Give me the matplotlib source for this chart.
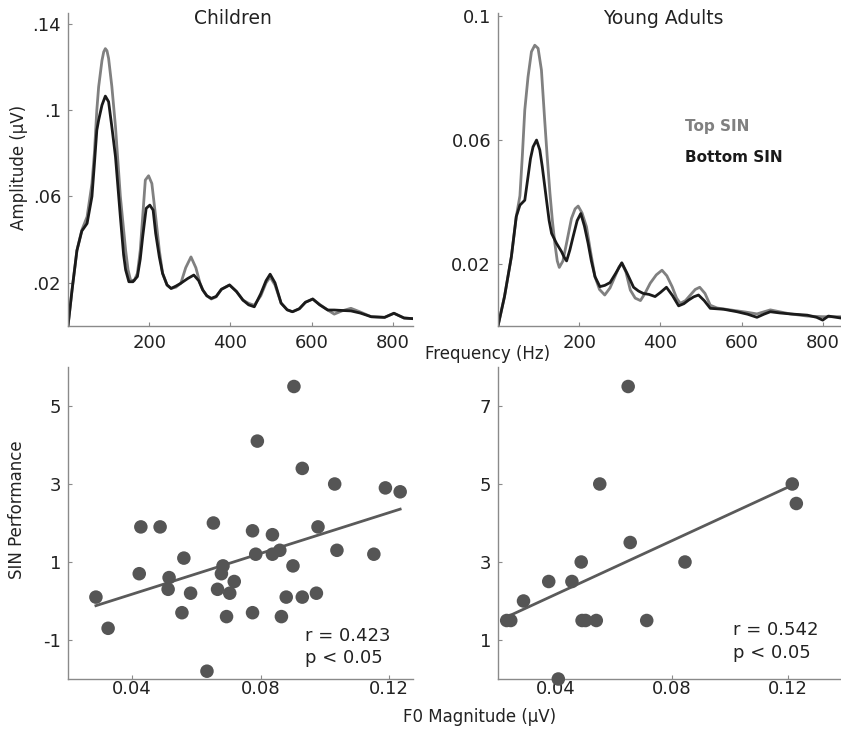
import numpy as np
import matplotlib
matplotlib.use('Agg')
import matplotlib.pyplot as plt

plt.rcParams['font.family'] = ['DejaVu Sans']
plt.rcParams['axes.unicode_minus'] = False

# spectra, children (Hz, amplitude in uV)
ch_top_hz = [0, 10, 22, 34, 47, 59, 65, 71, 75.5, 83.7, 88, 92, 96, 100, 108, 117, 129, 142, 148, 154, 163,
             171, 178, 184, 190.5, 198.5, 206.6, 216, 225, 233, 244, 254, 266, 278, 290, 303, 315, 325, 332,
             342, 353, 365, 378, 398, 415, 431, 445, 459, 475, 488, 498, 510, 525, 540, 553, 570, 585, 603,
             620, 640, 656, 675, 697, 720, 747, 780, 803, 828, 850]
ch_top_amp = [0, 0.0167, 0.035, 0.0444, 0.0506, 0.066, 0.08, 0.1, 0.1108, 0.123, 0.127, 0.1285, 0.1275, 0.124,
              0.111, 0.0923, 0.06, 0.035, 0.026, 0.0213, 0.021, 0.0244, 0.035, 0.0506, 0.0676, 0.0696, 0.066,
              0.0506, 0.035, 0.0244, 0.019, 0.0174, 0.018, 0.0198, 0.027, 0.032, 0.027, 0.02, 0.0167, 0.014,
              0.0125, 0.0135, 0.017, 0.019, 0.016, 0.012, 0.0105, 0.0096, 0.014, 0.02, 0.0227, 0.019, 0.0106,
              0.0075, 0.0066, 0.008, 0.011, 0.0125, 0.01, 0.0074, 0.0055, 0.007, 0.0082, 0.0065, 0.0043, 0.004,
              0.0059, 0.0037, 0.0034]
ch_bot_hz = [0, 10, 22, 34, 47, 59, 65, 71, 75.5, 83.7, 92, 100, 108, 117, 129, 137, 142, 150, 160, 171, 178,
             184, 192.6, 201.6, 209.7, 216, 225, 233, 244, 254, 266, 278, 295, 310, 322, 332, 342, 353, 365,
             378, 398, 415, 431, 445, 459, 475, 488, 498, 510, 525, 540, 553, 570, 585, 603, 620, 640, 656,
             675, 697, 720, 747, 780, 803, 828, 850]
ch_bot_amp = [0, 0.0167, 0.035, 0.044, 0.0475, 0.06, 0.075, 0.0907, 0.0954, 0.1023, 0.1065, 0.1039, 0.0923,
              0.0784, 0.0506, 0.033, 0.026, 0.0205, 0.0205, 0.0229, 0.031, 0.0413, 0.0545, 0.056, 0.0537,
              0.0429, 0.032, 0.0244, 0.019, 0.0174, 0.0185, 0.0198, 0.022, 0.0236, 0.021, 0.0167, 0.014,
              0.0128, 0.0137, 0.017, 0.019, 0.016, 0.012, 0.0098, 0.0089, 0.015, 0.021, 0.024, 0.02, 0.0106,
              0.0075, 0.0066, 0.008, 0.011, 0.0125, 0.0098, 0.0074, 0.0074, 0.0072, 0.007, 0.006, 0.0043,
              0.004, 0.0059, 0.0037, 0.0034]

# spectra, young adults
ya_top_hz = [0, 16, 33, 45, 54, 60, 66, 74, 82.4, 90.6, 98.8, 107, 115, 121, 128, 134, 140, 146, 151, 160,
             169, 181, 190, 197.5, 207, 218, 228, 239, 250, 263, 276, 288, 298, 305, 315, 326, 338, 351, 362,
             375, 390, 404, 416, 429, 440, 449, 462, 474, 486, 497, 510, 523, 540, 572, 610, 638, 671, 720,
             762, 800, 848]
ya_top_amp = [0, 0.0095, 0.0224, 0.0353, 0.042, 0.055, 0.0697, 0.0804, 0.0885, 0.0906, 0.0896, 0.0826,
              0.0665, 0.055, 0.0428, 0.034, 0.0267, 0.021, 0.0189, 0.021, 0.0268, 0.0347, 0.0378, 0.0387,
              0.0365, 0.032, 0.024, 0.0159, 0.0118, 0.01, 0.0123, 0.0159, 0.019, 0.0202, 0.0175, 0.0116,
              0.009, 0.0082, 0.0105, 0.0138, 0.0165, 0.018, 0.0162, 0.0127, 0.009, 0.0073, 0.0082, 0.01,
              0.0118, 0.0125, 0.0105, 0.0067, 0.0058, 0.0052, 0.0045, 0.0039, 0.0052, 0.0039, 0.0032, 0.003,
              0.003]
ya_bot_hz = [0, 16, 33, 45, 54, 60, 66, 74, 80, 86.4, 95, 103, 109, 119.5, 126, 132, 144, 156.5, 163, 169,
             177, 185, 195, 204, 213, 222, 230, 239, 251, 263, 276, 290, 305, 318, 334, 346, 358, 372, 387,
             400, 415, 430, 445, 458, 470, 482, 494, 508, 523, 556, 589, 615, 638, 655, 671, 695, 720, 762,
             785, 800, 814, 848]
ya_bot_amp = [0, 0.0095, 0.0224, 0.0353, 0.039, 0.0398, 0.0406, 0.0482, 0.054, 0.0578, 0.06, 0.0568, 0.0515,
              0.0406, 0.034, 0.0299, 0.0267, 0.024, 0.0222, 0.021, 0.0245, 0.0288, 0.034, 0.0363, 0.0322,
              0.0267, 0.021, 0.0159, 0.0127, 0.0131, 0.014, 0.017, 0.0204, 0.017, 0.0125, 0.0113, 0.0105,
              0.0102, 0.0095, 0.0108, 0.0125, 0.0098, 0.0065, 0.0072, 0.0084, 0.0094, 0.01, 0.0082, 0.0057,
              0.0054, 0.0046, 0.0038, 0.0028, 0.0038, 0.0046, 0.0042, 0.0039, 0.0035, 0.0028, 0.0019, 0.0032,
              0.0025]

# F0 magnitude vs SIN performance
ch_f0 = [0.0287, 0.0325, 0.0427, 0.0422, 0.0487, 0.0515, 0.0512, 0.0561, 0.0582, 0.0555, 0.0633, 0.0653,
         0.0666, 0.0683, 0.0678, 0.0718, 0.0704, 0.0694, 0.0775, 0.0785, 0.079, 0.0775, 0.0837, 0.0837, 0.086,
         0.0865, 0.088, 0.0901, 0.0904, 0.093, 0.093, 0.0974, 0.0979, 0.1031, 0.1038, 0.1153, 0.1189, 0.1235]
ch_sin = [0.1, -0.7, 1.9, 0.7, 1.9, 0.6, 0.3, 1.1, 0.2, -0.3, -1.8, 2.0, 0.3, 0.9, 0.7, 0.5, 0.2, -0.4, 1.8,
          1.2, 4.1, -0.3, 1.7, 1.2, 1.3, -0.4, 0.1, 0.9, 5.5, 3.4, 0.1, 0.2, 1.9, 3.0, 1.3, 1.2, 2.9, 2.8]
ya_f0 = [0.023, 0.0244, 0.0288, 0.0375, 0.0455, 0.0487, 0.049, 0.0502, 0.0539, 0.0551, 0.0408, 0.0649,
         0.0656, 0.0713, 0.0845, 0.1215, 0.1229]
ya_sin = [1.5, 1.5, 2.0, 2.5, 2.5, 3.0, 1.5, 1.5, 1.5, 5.0, 0.0, 7.5, 3.5, 1.5, 3.0, 5.0, 4.5]

stats = [('r = 0.423', 'p < 0.05'), ('r = 0.542', 'p < 0.05')]

gray = '#808080'
dark = '#1a1a1a'
dot = '#555555'
spine = '#8a8a8a'

fig = plt.figure(figsize=(8.41, 7.29), dpi=100)
W, H = 841.0, 729.0

def box(x0, y0, x1, y1):
    return [x0 / W, 1 - y1 / H, (x1 - x0) / W, (y1 - y0) / H]

ax_tl = fig.add_axes(box(68, 13, 413, 326))
ax_tr = fig.add_axes(box(498, 13, 843, 326))
ax_bl = fig.add_axes(box(68, 367, 413, 679))
ax_br = fig.add_axes(box(498, 367, 843, 679))

for ax in [ax_tl, ax_tr, ax_bl, ax_br]:
    ax.spines['top'].set_visible(False)
    ax.spines['right'].set_visible(False)
    for s in ['left', 'bottom']:
        ax.spines[s].set_color(spine)
        ax.spines[s].set_linewidth(1.0)
    ax.tick_params(direction='in', length=3, width=0.8, color=spine, labelsize=13, labelcolor='#222222')
    ax.patch.set_alpha(0)

# top spectra
ax_tl.plot(ch_top_hz, ch_top_amp, color=gray, lw=2, solid_joinstyle='round')
ax_tl.plot(ch_bot_hz, ch_bot_amp, color=dark, lw=2, solid_joinstyle='round')
ax_tl.set_xlim(0, 850)
ax_tl.set_ylim(0, 0.145)
ax_tl.set_yticks([0.02, 0.06, 0.1, 0.14])
ax_tl.set_yticklabels(['.02', '.06', '.1', '.14'])

ax_tr.plot(ya_top_hz, ya_top_amp, color=gray, lw=2, solid_joinstyle='round')
ax_tr.plot(ya_bot_hz, ya_bot_amp, color=dark, lw=2, solid_joinstyle='round')
ax_tr.set_xlim(0, 850)
ax_tr.set_ylim(0, 0.101)
ax_tr.set_yticks([0.02, 0.06, 0.1])
ax_tr.set_yticklabels(['0.02', '0.06', '0.1'])

for ax in [ax_tl, ax_tr]:
    ax.set_xticks([200, 400, 600, 800])
    ax.tick_params(axis='x', pad=6)
    ax.tick_params(axis='y', pad=5)

# scatter panels
panels = [(ax_bl, ch_f0, ch_sin, (0.02, 0.1275), (-2, 6), [-1, 1, 3, 5], (305, 636, 658)),
          (ax_br, ya_f0, ya_sin, (0.02, 0.139), (0, 8), [1, 3, 5, 7], (733, 630, 653))]
for i, (ax, fx, sy, xl, yl, yt, pos) in enumerate(panels):
    fx = np.array(fx)
    sy = np.array(sy)
    ax.scatter(fx, sy, s=95, color=dot, edgecolors='none', zorder=3, clip_on=False)
    k, b = np.polyfit(fx, sy, 1)
    xx = np.array([fx.min(), fx.max()])
    ax.plot(xx, k * xx + b, color='#5a5a5a', lw=2, zorder=2)
    ax.set_xlim(*xl)
    ax.set_ylim(*yl)
    ax.set_xticks([0.04, 0.08, 0.12])
    ax.set_xticklabels(['0.04', '0.08', '0.12'])
    ax.set_yticks(yt)
    ax.tick_params(axis='x', pad=1)
    ax.tick_params(axis='y', pad=5)
    fig.text(pos[0] / W, 1 - pos[1] / H, stats[i][0], fontsize=13, color='#222222', va='center')
    fig.text(pos[0] / W, 1 - pos[2] / H, stats[i][1], fontsize=13, color='#222222', va='center')

# titles and labels
fig.text(233 / W, 1 - 18 / H, 'Children', fontsize=13.5, ha='center', va='center', color='#222222')
fig.text(663 / W, 1 - 18 / H, 'Young Adults', fontsize=13.5, ha='center', va='center', color='#222222')
fig.text(19 / W, 1 - 167 / H, 'Amplitude (µV)', fontsize=12, rotation=90, ha='center', va='center', color='#222222')
fig.text(17 / W, 1 - 510 / H, 'SIN Performance', fontsize=12, rotation=90, ha='center', va='center', color='#222222')
fig.text(425 / W, 1 - 354 / H, 'Frequency (Hz)', fontsize=12, ha='left', va='center', color='#222222')
fig.text(403 / W, 1 - 717 / H, 'F0 Magnitude (µV)', fontsize=12, ha='left', va='center', color='#222222')

# legend text
fig.text(685 / W, 1 - 127 / H, 'Top SIN', fontsize=11, fontweight='bold', color=gray, va='center')
fig.text(685 / W, 1 - 157 / H, 'Bottom SIN', fontsize=11, fontweight='bold', color=dark, va='center')

fig.savefig('out.png', dpi=100)
